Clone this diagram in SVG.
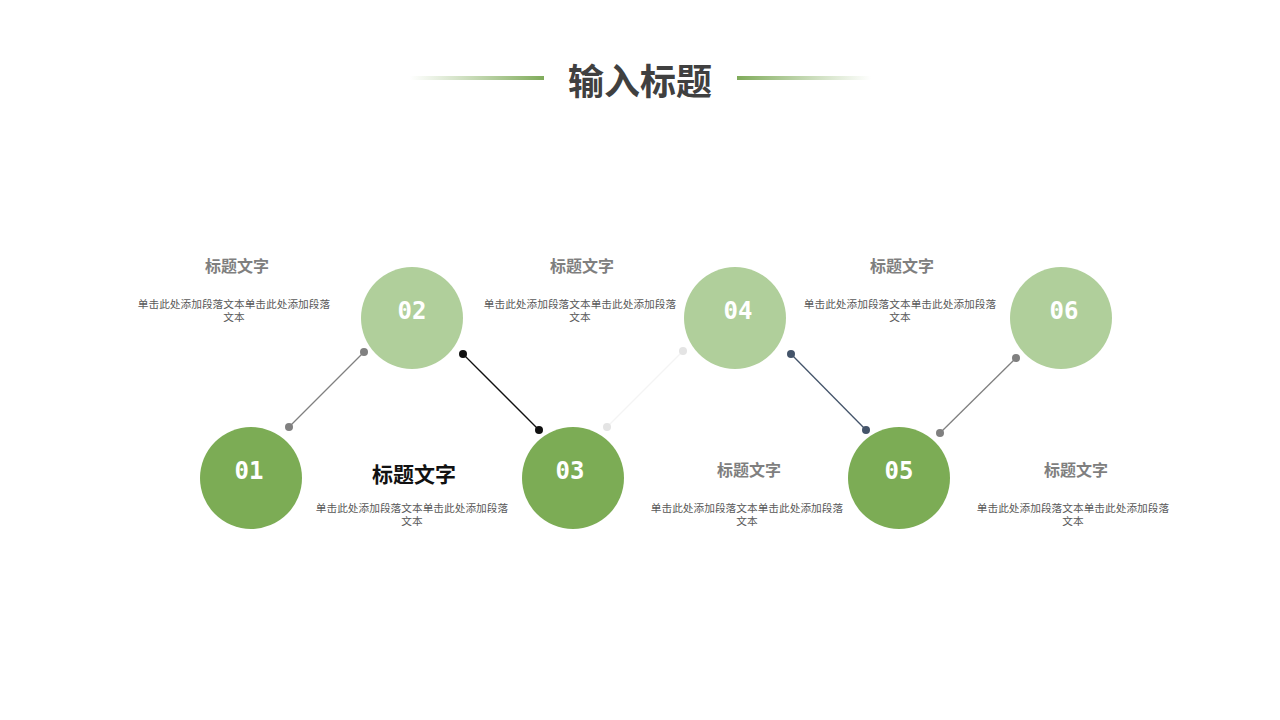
<svg xmlns="http://www.w3.org/2000/svg" width="1280" height="720" viewBox="0 0 1280 720">
<defs>
<linearGradient id="gl" x1="0" y1="0" x2="1" y2="0"><stop offset="0" stop-color="#8bb369" stop-opacity="0"/><stop offset="1" stop-color="#7fab5a"/></linearGradient>
<linearGradient id="gr" x1="0" y1="0" x2="1" y2="0"><stop offset="0" stop-color="#7fab5a"/><stop offset="1" stop-color="#8bb369" stop-opacity="0"/></linearGradient>
<style>
.dk{fill:#7cac55}.lt{fill:#b0cf9b}
.num{font-family:"DejaVu Sans Mono","Liberation Mono",monospace;font-weight:bold;font-size:24px;fill:#fff;text-anchor:middle}
.h{font-family:"Noto Sans CJK SC",sans-serif;font-weight:bold;font-size:16px;fill:#7f7f7f;text-anchor:middle}
.b{font-family:"Noto Sans CJK SC",sans-serif;font-size:10.7px;fill:#595959;text-anchor:middle}
</style>
</defs>
<rect width="1280" height="720" fill="#fff"/>
<g id="title">
<rect x="410" y="76" width="134" height="4" fill="url(#gl)"/>
<rect x="737" y="76" width="134" height="4" fill="url(#gr)"/>
<text x="640" y="95" font-family="Noto Sans CJK SC,sans-serif" font-weight="bold" font-size="36" fill="#404040" text-anchor="middle">输入标题</text>
</g>
<g id="connectors">
<line x1="289" y1="427" x2="364" y2="352" stroke="#808080" stroke-width="1.3"/>
<circle cx="289" cy="427" r="4" fill="#808080"/><circle cx="364" cy="352" r="4" fill="#808080"/>
<line x1="463" y1="354" x2="539" y2="430" stroke="#111" stroke-width="1.3"/>
<circle cx="463" cy="354" r="4" fill="#111"/><circle cx="539" cy="430" r="4" fill="#111"/>
<line x1="607" y1="427" x2="683" y2="351" stroke="#f4f4f4" stroke-width="1.3"/>
<circle cx="607" cy="427" r="4" fill="#e4e4e4"/><circle cx="683" cy="351" r="4" fill="#e4e4e4"/>
<line x1="791" y1="354" x2="866" y2="430" stroke="#44546a" stroke-width="1.3"/>
<circle cx="791" cy="354" r="4" fill="#44546a"/><circle cx="866" cy="430" r="4" fill="#44546a"/>
<line x1="940" y1="433" x2="1016" y2="358" stroke="#808080" stroke-width="1.3"/>
<circle cx="940" cy="433" r="4" fill="#808080"/><circle cx="1016" cy="358" r="4" fill="#808080"/>
</g>
<g id="n01"><circle cx="251" cy="478" r="51" class="dk"/><text x="249" y="479" class="num">01</text></g>
<g id="n02"><circle cx="412" cy="318" r="51" class="lt"/><text x="412" y="319" class="num">02</text></g>
<g id="n03"><circle cx="573" cy="478" r="51" class="dk"/><text x="570" y="479" class="num">03</text></g>
<g id="n04"><circle cx="735" cy="318" r="51" class="lt"/><text x="738" y="319" class="num">04</text></g>
<g id="n05"><circle cx="899" cy="478" r="51" class="dk"/><text x="899" y="479" class="num">05</text></g>
<g id="n06"><circle cx="1061" cy="318" r="51" class="lt"/><text x="1064" y="319" class="num">06</text></g>
<g id="t01"><text x="414" y="482" font-family="Noto Sans CJK SC,sans-serif" font-weight="bold" font-size="21" fill="#111" text-anchor="middle">标题文字</text>
<text x="412" y="512" class="b">单击此处添加段落文本单击此处添加段落</text><text x="412" y="525" class="b">文本</text></g>
<g id="t02"><text x="237" y="272" class="h">标题文字</text>
<text x="234" y="308" class="b">单击此处添加段落文本单击此处添加段落</text><text x="234" y="321" class="b">文本</text></g>
<g id="t03"><text x="582" y="272" class="h">标题文字</text>
<text x="580" y="308" class="b">单击此处添加段落文本单击此处添加段落</text><text x="580" y="321" class="b">文本</text></g>
<g id="t04"><text x="902" y="272" class="h">标题文字</text>
<text x="900" y="308" class="b">单击此处添加段落文本单击此处添加段落</text><text x="900" y="321" class="b">文本</text></g>
<g id="t05"><text x="749" y="476" class="h">标题文字</text>
<text x="747" y="512" class="b">单击此处添加段落文本单击此处添加段落</text><text x="747" y="525" class="b">文本</text></g>
<g id="t06"><text x="1076" y="476" class="h">标题文字</text>
<text x="1073" y="512" class="b">单击此处添加段落文本单击此处添加段落</text><text x="1073" y="525" class="b">文本</text></g>
</svg>
